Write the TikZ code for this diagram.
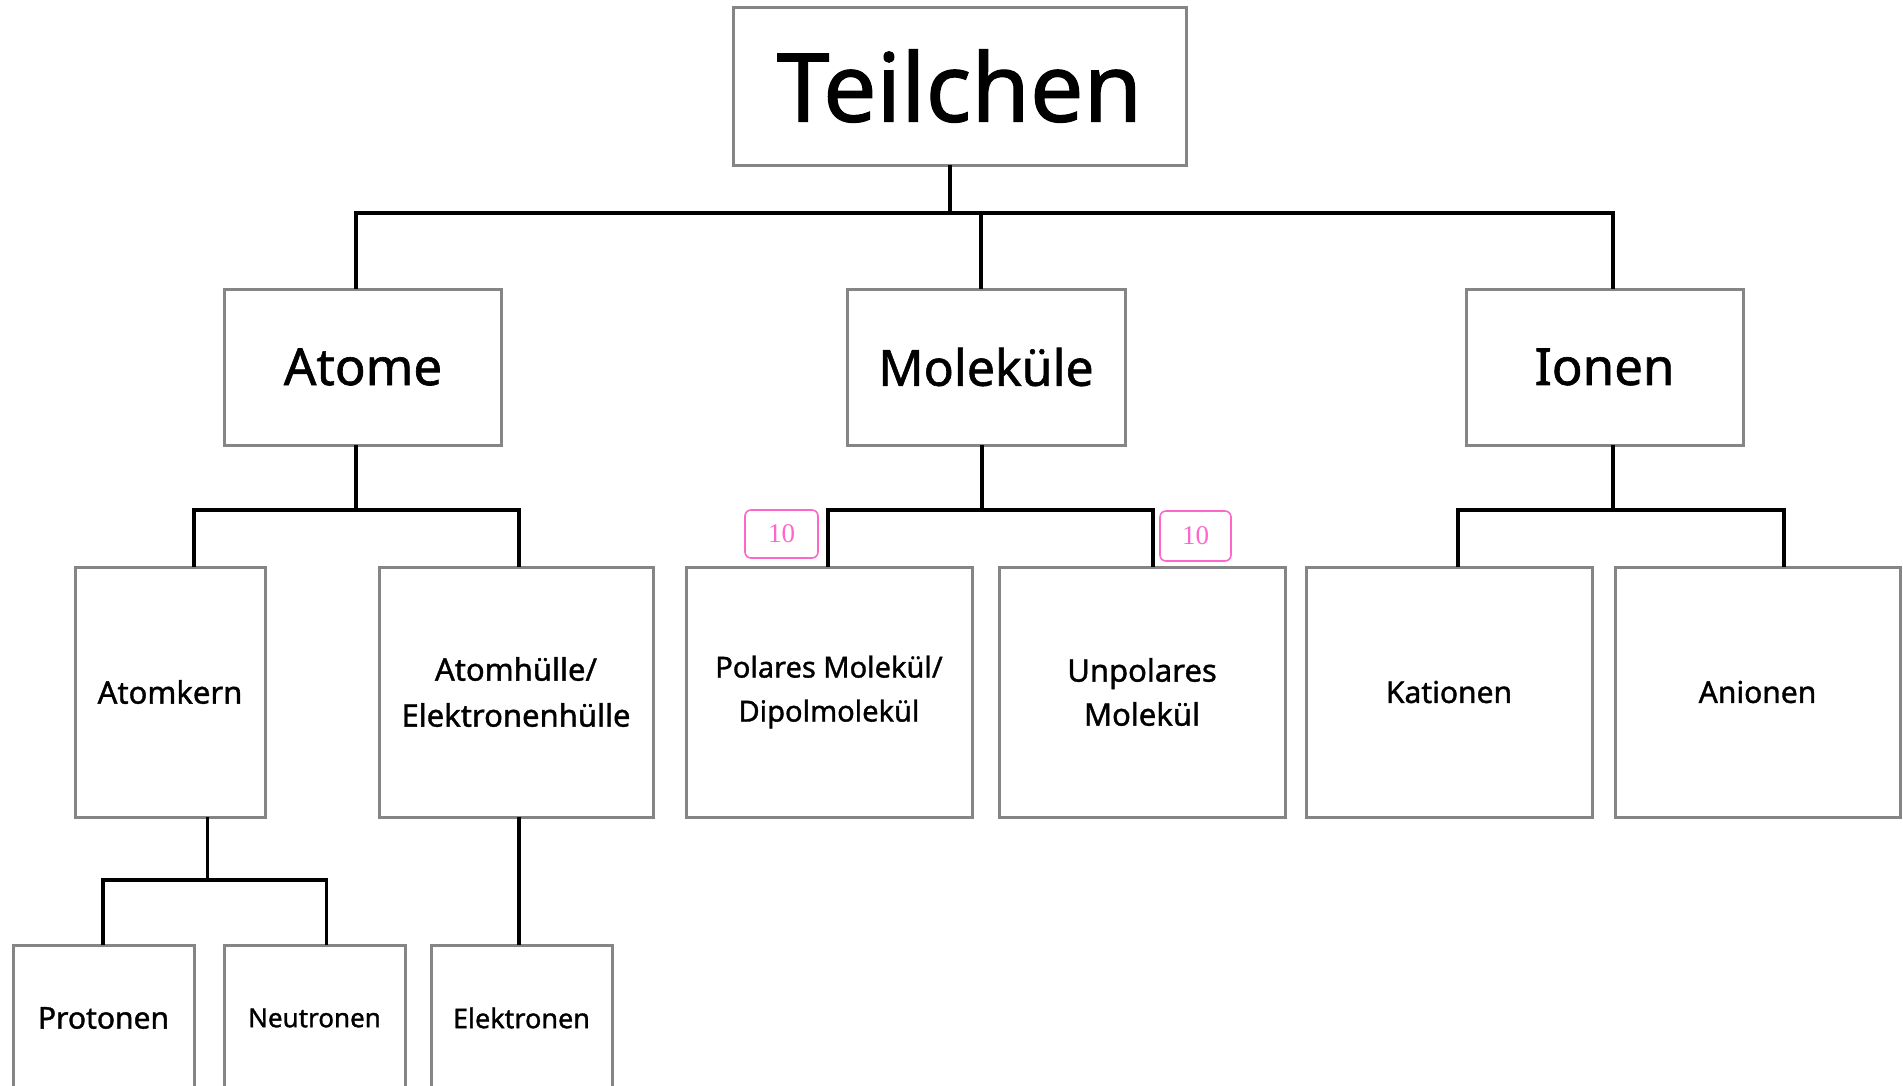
\documentclass[tikz,border=0pt]{standalone}
\usepackage{fontspec}
\setmainfont{Noto Sans}[FakeBold=1.2]
\newfontfamily\badgefont{Liberation Serif}
\definecolor{boxgray}{HTML}{858585}
\definecolor{badgepink}{HTML}{FF66CC}
\begin{document}
\begin{tikzpicture}[x=1pt,y=-1pt,
  box/.style={draw=boxgray, line width=3pt, fill=white, inner sep=0pt, align=center, text=black},
  conn/.style={draw=black, line width=3.4pt, line cap=rect},
  badge/.style={draw=badgepink, line width=1.6pt, rounded corners=6pt, text=badgepink, inner sep=0pt, font=\badgefont\fontsize{27}{27}\selectfont}]
\clip (0,0) rectangle (1903,1085);
\fill[white] (0,0) rectangle (1903,1085);
% level 1
\node[box, minimum width=453pt, minimum height=158pt, font=\fontsize{95}{100}\selectfont] (teil) at (959.5,86) {Teilchen};
% level 2
\node[box, minimum width=277pt, minimum height=156pt, font=\fontsize{51}{56}\selectfont] (atome) at (363,367) {Atome};
\node[box, minimum width=278pt, minimum height=156pt, font=\fontsize{50}{56}\selectfont] (mol) at (986,367) {Moleküle};
\node[box, minimum width=277pt, minimum height=156pt, font=\fontsize{51}{56}\selectfont] (ionen) at (1604.5,367) {Ionen};
% level 3
\node[box, minimum width=190pt, minimum height=250pt, font=\fontsize{31}{46}\selectfont] (kern) at (170,692) {\raisebox{-3pt}{Atomkern}};
\node[box, minimum width=274pt, minimum height=250pt, font=\fontsize{31}{46}\selectfont] (huelle) at (516,692) {Atomhülle/\\Elektronenhülle};
\node[box, minimum width=286pt, minimum height=250pt, font=\fontsize{29}{44}\selectfont] (polar) at (829,692) {Polares Molekül/\\Dipolmolekül};
\node[box, minimum width=286pt, minimum height=250pt, font=\fontsize{31}{44}\selectfont] (unpolar) at (1142,692) {Unpolares\\Molekül};
\node[box, minimum width=286pt, minimum height=250pt, font=\fontsize{30}{44}\selectfont] (kat) at (1449,692) {\raisebox{-3pt}{Kationen}};
\node[box, minimum width=285pt, minimum height=250pt, font=\fontsize{30}{44}\selectfont] (an) at (1757.5,692) {\raisebox{-3pt}{Anionen}};
% level 4
\node[box, minimum width=181pt, minimum height=146pt, font=\fontsize{30}{36}\selectfont] (prot) at (103.5,1018) {Protonen};
\node[box, minimum width=181pt, minimum height=146pt, font=\fontsize{26}{36}\selectfont] (neut) at (314.5,1018) {Neutronen};
\node[box, minimum width=181pt, minimum height=146pt, font=\fontsize{27}{36}\selectfont] (elek) at (521.5,1018) {Elektronen};
% junction coordinates
\coordinate (j1) at (950,213);
\coordinate (j1a) at (356,213);
\coordinate (j1b) at (981,213);
\coordinate (j1c) at (1613,213);
\coordinate (j2a) at (356,510);
\coordinate (j2al) at (194,510);
\coordinate (j2ar) at (519,510);
\coordinate (j2b) at (982,510);
\coordinate (j2bl) at (828,510);
\coordinate (j2br) at (1153,510);
\coordinate (j2c) at (1613,510);
\coordinate (j2cl) at (1458,510);
\coordinate (j2cr) at (1784,510);
\coordinate (j3a) at (207.5,880);
\coordinate (j3al) at (103,880);
\coordinate (j3ar) at (326.5,880);
% connectors
\draw[conn] (teil.south -| j1) -- (j1);
\draw[conn] (j1a) -- (j1c);
\draw[conn] (j1a) -- (j1a |- atome.north);
\draw[conn] (j1b) -- (j1b |- mol.north);
\draw[conn] (j1c) -- (j1c |- ionen.north);
\draw[conn] (atome.south -| j2a) -- (j2a);
\draw[conn] (j2al |- kern.north) -- (j2al) -- (j2ar) -- (j2ar |- huelle.north);
\draw[conn] (mol.south -| j2b) -- (j2b);
\draw[conn] (j2bl |- polar.north) -- (j2bl) -- (j2br) -- (j2br |- unpolar.north);
\draw[conn] (ionen.south -| j2c) -- (j2c);
\draw[conn] (j2cl |- kat.north) -- (j2cl) -- (j2cr) -- (j2cr |- an.north);
\draw[conn] (kern.south -| j3a) -- (j3a);
\draw[conn] (j3al |- prot.north) -- (j3al) -- (j3ar) -- (j3ar |- neut.north);
\draw[conn] (huelle.south -| j2ar) -- (j2ar |- elek.north);
% badges
\node[badge, minimum width=73pt, minimum height=48pt] (b1) at (781.5,534) {10};
\node[badge, minimum width=71pt, minimum height=50pt] (b2) at (1195.5,536) {10};
\end{tikzpicture}
\end{document}
